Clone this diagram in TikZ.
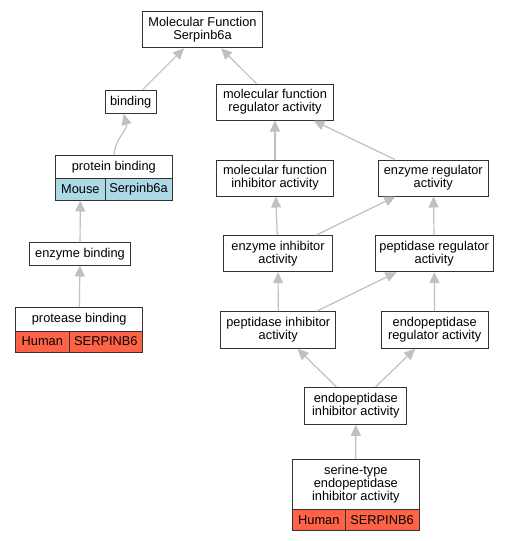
\documentclass[tikz,border=0pt]{standalone}
\usepackage{fontspec}
\usetikzlibrary{arrows.meta}
\newfontfamily\labelfam{Liberation Sans}
\newcommand\labelfont{\labelfam\fontsize{12.8pt}{13.3pt}\selectfont}
\definecolor{mouseblue}{HTML}{ADD8E6}
\definecolor{humanred}{HTML}{FF6347}
\definecolor{edgegray}{HTML}{C0C0C0}
\tikzset{
  box/.style={draw=black!80, line width=1pt, fill=white, align=center, inner sep=0pt, font=\labelfont},
  mousecell/.style={box, fill=mouseblue},
  humancell/.style={box, fill=humanred},
  edge/.style={draw=edgegray, line width=1.2pt, -{Triangle[length=11pt,width=10pt,fill=edgegray]}},
}
\begin{document}
\begin{tikzpicture}[x=1pt,y=-1pt]
\useasboundingbox (0,0) rectangle (511,541);
% nodes
\node[box, minimum width=120.5pt, minimum height=36pt] (mf) at (202.5,29.8) {Molecular Function\\Serpinb6a};
\node[box, minimum width=50.7pt, minimum height=23.3pt] (bind) at (130.7,101.7) {binding};
\node[box, minimum width=116.3pt, minimum height=23pt] (pbt) at (113.85,166.8) {protein binding};
\node[mousecell, minimum width=49.3pt, minimum height=21.7pt] (pbm) at (80.35,189.15) {Mouse};
\node[mousecell, minimum width=67pt, minimum height=21.7pt] (pbs) at (138.5,189.15) {Serpinb6a};
\node[box, minimum width=101.4pt, minimum height=22.3pt] (eb) at (80,253.85) {enzyme binding};
\node[box, minimum width=127pt, minimum height=23.3pt] (prt) at (79.2,319.35) {protease binding};
\node[humancell, minimum width=53.3pt, minimum height=21pt] (prh) at (42.35,341.5) {Human};
\node[humancell, minimum width=73.7pt, minimum height=21pt] (prs) at (105.85,341.5) {SERPINB6};
\node[box, minimum width=116.6pt, minimum height=36pt] (mfra) at (275,102) {molecular function\\regulator activity};
\node[box, minimum width=116.6pt, minimum height=36pt] (mfia) at (275,178) {molecular function\\inhibitor activity};
\node[box, minimum width=110pt, minimum height=36pt] (era) at (433.3,178) {enzyme regulator\\activity};
\node[box, minimum width=109.4pt, minimum height=36pt] (eia) at (278,253.7) {enzyme inhibitor\\activity};
\node[box, minimum width=118.3pt, minimum height=36pt] (pra) at (434.2,253.7) {peptidase regulator\\activity};
\node[box, minimum width=115.3pt, minimum height=36.6pt] (pia) at (278.3,330) {peptidase inhibitor\\activity};
\node[box, minimum width=107.3pt, minimum height=36.6pt] (enra) at (434.7,330) {endopeptidase\\regulator activity};
\node[box, minimum width=101.7pt, minimum height=37pt] (enia) at (355.8,405.8) {endopeptidase\\inhibitor activity};
\node[box, minimum width=126.3pt, minimum height=49.7pt] (stt) at (355.85,484.15) {serine-type\\endopeptidase\\inhibitor activity};
\node[humancell, minimum width=52.3pt, minimum height=21.7pt] (sth) at (318.85,519.85) {Human};
\node[humancell, minimum width=74pt, minimum height=21.7pt] (sts) at (382,519.85) {SERPINB6};
% edges
\draw[edge] (bind) -- (mf);
\draw[edge] (mfra) -- (mf);
\draw[edge] (pbt.north) to[out=85,in=-75] (bind.-120);
\draw[edge] (eb) -- (pbm);
\draw[edge] (prt) -- (eb);
\draw[edge] (mfia) -- (mfra);
\draw[edge] (era) -- (mfra);
\draw[edge] (eia) -- (mfia);
\draw[edge] (eia) -- (era);
\draw[edge] (pra) -- (era);
\draw[edge] (pia) -- (eia);
\draw[edge] (pia) -- (pra);
\draw[edge] (enra) -- (pra);
\draw[edge] (enia) -- (pia);
\draw[edge] (enia) -- (enra);
\draw[edge] (stt) -- (enia);
\end{tikzpicture}
\end{document}
